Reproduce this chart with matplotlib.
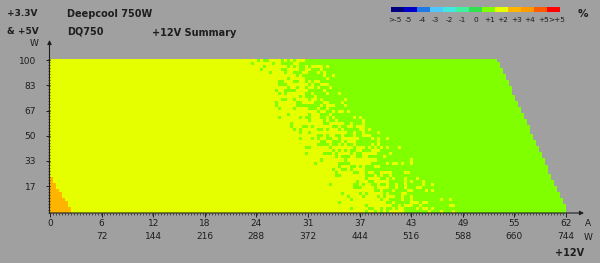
"""
Deepcool DQ750 cross-load chart: +12V deviation over the +12V / (+3.3V & +5V) load plane.
Saves out.png (600x263).
"""
import numpy as np
import matplotlib
matplotlib.use("Agg")
import matplotlib.pyplot as plt
from matplotlib.colors import ListedColormap, BoundaryNorm
from matplotlib.patches import FancyArrowPatch

FIG_W, FIG_H = 600, 263
BG = "#a0a0a0"
INK = "#1e1e1e"

# colour legend (deviation in %)
LEVEL_LABELS = [">-5", "-5", "-4", "-3", "-2", "-1", "0",
                "+1", "+2", "+3", "+4", "+5", ">+5"]
LEVEL_COLORS = ["#000080", "#0000c8", "#1e78e6", "#50c8ff", "#40e8e0", "#40f0a0",
                "#30e050", "#80ff00", "#e6ff00", "#ffb400", "#ff9a00", "#ff5a00", "#ff0000"]

# axes
MAX_A = 62.0          # +12V current range
LIMIT_W = 746.0       # combined power limit (12V*A + minor rails W)
X_TICK_A = ["0", "6", "12", "18", "24", "31", "37", "43", "49", "55", "62"]
X_TICK_W = ["", "72", "144", "216", "288", "372", "444", "516", "588", "660", "744"]
Y_TICK = ["17", "33", "50", "67", "83", "100"]

# measurement grid: 172 current steps x 51 minor-rail steps (0..100 W, 2 W each)
N_COLS = 172
P_STEP = 2
# per row (P = 0, 2, ..., 100 W): where +2 % (yellow) starts mixing into +1 % (green) [A]
MIX_START = [35.5, 35.0, 35.5, 34.5, 34.5, 34.0, 34.0, 33.5, 33.5, 33.0,
             32.5, 32.5, 32.0, 32.0, 31.5, 31.5, 31.0, 31.0, 30.5, 30.5,
             30.0, 30.0, 29.5, 29.5, 29.0, 29.0, 28.5, 28.5, 28.0, 28.0,
             27.5, 27.5, 27.0, 27.0, 26.5, 26.5, 26.5, 26.0, 26.0, 26.0,
             25.5, 25.5, 25.5, 25.0, 25.0, 24.5, 24.5, 24.5, 24.0, 24.0, 24.0]
# ... and where it is fully green [A]
MIX_END = [50.5, 50.0, 49.5, 49.5, 49.0, 48.5, 48.0, 48.0, 47.5, 47.0,
           46.5, 46.5, 46.0, 45.5, 45.0, 45.0, 44.5, 44.0, 43.5, 43.5,
           43.0, 42.5, 42.0, 42.0, 41.5, 41.0, 40.5, 40.5, 40.0, 39.5,
           39.0, 39.0, 38.5, 38.0, 37.5, 37.5, 37.0, 36.5, 36.5, 36.0,
           36.0, 35.5, 35.5, 35.0, 35.0, 35.0, 34.5, 34.5, 34.5, 34.0, 34.0]
# +3 % (orange) corner at light +12V load [A]
ORANGE_END = [2.5, 2.5, 2.2, 2.2, 1.8, 1.6, 1.4, 1.1, 0.8, 0.6, 0.4, 0.4] + [0.0] * 39


def px(x, y):
    """pixel position (from top-left) -> figure fraction"""
    return x / FIG_W, 1 - y / FIG_H


def scatter_threshold(r, c):
    # fixed hash threshold per cell, spreads the mixed cells of the band
    return (np.sin(r * 12.9898 + c * 78.233) * 43758.5453) % 1


def build_grid():
    n_rows = len(MIX_START)
    x_edges = np.linspace(0, MAX_A, N_COLS + 1)
    y_edges = np.arange(n_rows + 1) * P_STEP - P_STEP / 2
    xc = (x_edges[:-1] + x_edges[1:]) / 2
    cols = np.arange(N_COLS)
    lvl = LEVEL_LABELS.index
    Z = np.full((n_rows, N_COLS), lvl("+2"), dtype=float)
    for r in range(n_rows):
        p = r * P_STEP
        frac = np.clip((xc - MIX_START[r]) / (MIX_END[r] - MIX_START[r]), 0, 1)
        Z[r, frac > scatter_threshold(r, cols)] = lvl("+1")
        Z[r, xc < ORANGE_END[r]] = lvl("+3")
        Z[r, 12 * xc + p > LIMIT_W] = np.nan
    return x_edges, y_edges, np.ma.masked_invalid(Z)


def main():
    cmap = ListedColormap(LEVEL_COLORS)
    norm = BoundaryNorm(np.arange(len(LEVEL_COLORS) + 1) - 0.5, cmap.N)

    plt.rcParams["font.family"] = "DejaVu Sans"
    fig = plt.figure(figsize=(FIG_W / 100, FIG_H / 100), dpi=100, facecolor=BG)

    # main map: x 50..566 px, y 58.5..213 px
    l, b = px(50, 213)
    ax = fig.add_axes([l, b, 516 / FIG_W, 154.5 / FIG_H])
    ax.set_facecolor("none")
    x_edges, y_edges, Z = build_grid()
    ax.pcolormesh(x_edges, y_edges, Z, cmap=cmap, norm=norm, shading="flat")
    ax.set_xlim(0, MAX_A)
    ax.set_ylim(y_edges[0], y_edges[-1])
    for s in ax.spines.values():
        s.set_visible(False)

    xt = np.arange(len(X_TICK_A)) * MAX_A / (len(X_TICK_A) - 1)
    ax.set_xticks(xt)
    ax.set_xticklabels([])
    ax.set_xticks(x_edges, minor=True)
    yt = np.arange(1, len(Y_TICK) + 1) * 100 / len(Y_TICK)
    ax.set_yticks(yt)
    ax.set_yticklabels(Y_TICK, fontsize=6.5, color=INK)
    ax.set_yticks(y_edges, minor=True)
    ax.tick_params(which="major", length=3, width=0.7, color=INK, pad=7)
    ax.tick_params(which="minor", length=1.5, width=0.5, color=INK)

    tr = ax.get_xaxis_transform()
    for x, a, w in zip(xt, X_TICK_A, X_TICK_W):
        ax.text(x, -0.065, a, transform=tr, ha="center", va="center", fontsize=6.5, color=INK)
        ax.text(x, -0.155, w, transform=tr, ha="center", va="center", fontsize=6.5, color=INK)

    # axis arrows
    arrow = dict(arrowstyle="-|>", color=INK, lw=0.8, mutation_scale=6, shrinkA=0, shrinkB=0)
    fig.add_artist(FancyArrowPatch(px(50, 213), px(584, 213), transform=fig.transFigure, **arrow))
    fig.add_artist(FancyArrowPatch(px(49.5, 213), px(49.5, 40), transform=fig.transFigure, **arrow))

    def label(x, y, s, bold=False, size=6.5, ha="left"):
        fig.text(*px(x, y), s, fontsize=size, color=INK, ha=ha, va="center",
                 fontweight="bold" if bold else "normal")

    label(7, 14, "+3.3V", bold=True)
    label(7, 31, "& +5V", bold=True)
    label(39, 43, "W", ha="right")
    label(67, 14, "Deepcool 750W", bold=True, size=7)
    label(67, 31, "DQ750", bold=True, size=7)
    label(152, 33, "+12V Summary", bold=True, size=7)
    label(588, 223, "A", ha="center")
    label(588, 237, "W", ha="center")
    label(570, 253, "+12V", bold=True, size=7, ha="center")

    # colour legend
    cax = fig.add_axes([*px(391, 11.5), 169 / FIG_W, 4.5 / FIG_H])
    cax.pcolormesh(np.arange(len(LEVEL_COLORS))[None, :], cmap=cmap, norm=norm)
    cax.set_axis_off()
    for k, s in enumerate(LEVEL_LABELS):
        label(395 + k * 13.5, 20, s, size=5.3, ha="center")
    label(583, 14, "%", bold=True, size=7.5, ha="center")

    fig.savefig("out.png", dpi=100, facecolor=BG)


if __name__ == "__main__":
    main()
